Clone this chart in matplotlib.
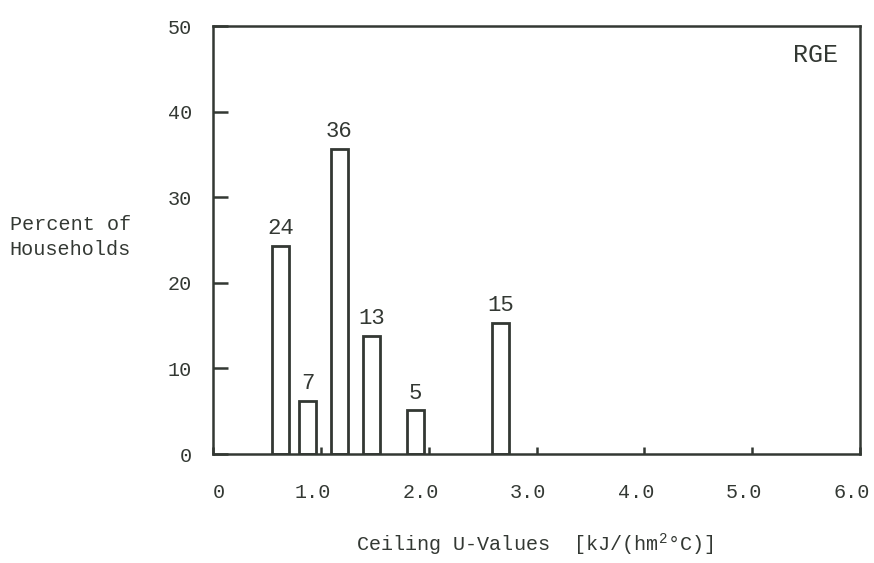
import matplotlib
matplotlib.use('agg')
import matplotlib.pyplot as plt
from matplotlib.transforms import ScaledTranslation

# ceiling U-value bins (bar centres) and share of households
u_values = [0.626, 0.877, 1.170, 1.469, 1.878, 2.664]
heights = [24.3, 6.2, 35.6, 13.8, 5.1, 15.3]
labels = ['24', '7', '36', '13', '5', '15']
bar_width = 0.16

xticks = [0, 1, 2, 3, 4, 5, 6]
xticklabels = ['0', '1.0', '2.0', '3.0', '4.0', '5.0', '6.0']
yticks = [0, 10, 20, 30, 40, 50]
yticklabels = ['0', '10', '20', '30', '40', '50']

ink = '#333833'
plt.rcParams['font.family'] = ['Liberation Mono', 'DejaVu Sans Mono']
plt.rcParams['font.size'] = 14
plt.rcParams['mathtext.fontset'] = 'custom'
plt.rcParams['mathtext.rm'] = 'Liberation Mono'
plt.rcParams['mathtext.default'] = 'rm'

fig = plt.figure(figsize=(8.74, 5.63), dpi=100)
ax = fig.add_axes([0.2437, 0.1936, 0.7403, 0.7602])

ax.bar(u_values, heights, width=bar_width, facecolor='white',
       edgecolor=ink, linewidth=2)
for x, h, t in zip(u_values, heights, labels):
    ax.text(x, h + 0.8, t, ha='center', va='bottom', color=ink, fontsize=16)

ax.set_xlim(0, 6)
ax.set_ylim(0, 50)
ax.set_xticks(xticks)
ax.set_xticklabels(xticklabels)
ax.set_yticks(yticks)
ax.set_yticklabels(yticklabels)

for s in ax.spines.values():
    s.set_color(ink)
    s.set_linewidth(1.8)

ax.tick_params(axis='y', direction='in', length=10.5, width=1.8, color=ink,
               pad=15, labelcolor=ink, labelsize=14.5)
ax.tick_params(axis='x', direction='in', length=5, width=1.8, color=ink,
               pad=21, labelcolor=ink, labelsize=14.5)

# x tick labels sit a little left of their ticks in the original
shift = ScaledTranslation(-6 / 72, 0, fig.dpi_scale_trans)
for lab in ax.get_xticklabels()[1:]:
    lab.set_transform(lab.get_transform() + shift)
lab0 = ax.get_xticklabels()[0]
lab0.set_transform(lab0.get_transform() + ScaledTranslation(4 / 72, 0, fig.dpi_scale_trans))

ax.text(0.966, 0.932, 'RGE', transform=ax.transAxes, ha='right',
        va='center', color=ink, fontsize=18)

fig.text(0.011, 0.579, 'Percent of\nHouseholds', ha='left', va='center',
         color=ink, linespacing=1.35, fontsize=14.5)
fig.text(0.612, 0.032, 'Ceiling U-Values  [kJ/(hm$^{2}$\u00b0C)]',
         ha='center', va='center', color=ink, fontsize=14.5)

fig.savefig('out.png', dpi=100)
